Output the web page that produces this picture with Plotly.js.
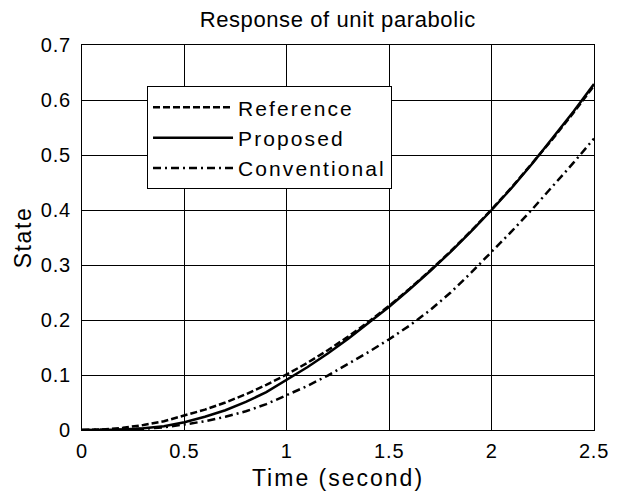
<!DOCTYPE html>
<html><head><meta charset="utf-8">
<script src="https://cdn.plot.ly/plotly-3.0.1.min.js"></script>
<style>
body{margin:0;background:#fff}#c{width:622px;height:497px}
.gtitle{letter-spacing:0.6px}
.legendtext{letter-spacing:2.1px}
.xtitle{letter-spacing:2px}
.ytitle{letter-spacing:1.6px}
.xtick text,.ytick text{letter-spacing:0.8px}
</style>
</head><body><div id="c"></div>
<script>
const time = [0,0.1,0.2,0.3,0.4,0.5,0.6,0.7,0.8,0.9,1.0,1.1,1.2,1.3,1.4,1.5,1.6,1.7,1.8,1.9,2.0,2.1,2.2,2.3,2.4,2.5];
const reference = [0,0.001,0.004,0.009,0.016,0.026,0.037,0.050,0.065,0.082,0.101,0.122,0.145,0.170,0.197,0.226,0.257,0.290,0.325,0.362,0.401,0.442,0.485,0.530,0.577,0.626];
const proposed = [0,0.000,0.001,0.003,0.007,0.014,0.024,0.036,0.051,0.069,0.091,0.114,0.139,0.166,0.195,0.224,0.256,0.289,0.324,0.361,0.400,0.441,0.485,0.531,0.579,0.629];
const conventional = [0,0,0.001,0.002,0.005,0.010,0.016,0.024,0.034,0.047,0.063,0.080,0.099,0.120,0.142,0.165,0.190,0.218,0.250,0.286,0.324,0.362,0.402,0.443,0.486,0.530];
const xTicks = [0,0.5,1,1.5,2,2.5];
const yTicks = [0,0.1,0.2,0.3,0.4,0.5,0.6,0.7];

const font = "Liberation Sans, Arial, sans-serif";
const traces = [
  {x: time, y: reference, name: "Reference", mode: "lines", line: {color: "#000", width: 2.5, dash: "7px,3px"}},
  {x: time, y: proposed, name: "Proposed", mode: "lines", line: {color: "#000", width: 2.5, dash: "solid"}},
  {x: time, y: conventional, name: "Conventional", mode: "lines", line: {color: "#000", width: 2.5, dash: "8px,4px,2px,4px"}}
];
const axisCommon = {
  showgrid: true, gridcolor: "#000", gridwidth: 1, zeroline: false,
  showline: true, linecolor: "#000", linewidth: 1, mirror: true,
  ticks: "inside", ticklen: 5, tickcolor: "#000",
  tickfont: {family: font, size: 20, color: "#000"}
};
const layout = {
  width: 622, height: 497,
  margin: {l: 82, r: 28, t: 45, b: 67},
  paper_bgcolor: "#fff", plot_bgcolor: "#fff",
  title: {text: "Response of unit parabolic", font: {family: font, size: 22, color: "#000"}, x: 0.543, xanchor: "center", y: 0.962, yanchor: "middle"},
  xaxis: Object.assign({}, axisCommon, {range: [0, 2.5], tickvals: xTicks, ticktext: xTicks.map(String), ticklabelstandoff: 3,
    title: {text: "Time (second)", font: {family: font, size: 23, color: "#000"}, standoff: 8}}),
  yaxis: Object.assign({}, axisCommon, {range: [0, 0.7], tickvals: yTicks, ticktext: yTicks.map(String), ticklabelstandoff: 6,
    title: {text: "State", font: {family: font, size: 23, color: "#000"}, standoff: 2}}),
  showlegend: true,
  legend: {x: 0.127, y: 0.893, xanchor: "left", yanchor: "top", bgcolor: "#fff", bordercolor: "#000", borderwidth: 1,
    font: {family: font, size: 21, color: "#000"}, itemwidth: 80, tracegroupgap: 0}
};
Plotly.newPlot("c", traces, layout, {displayModeBar: false, staticPlot: true});
</script>
</body></html>
